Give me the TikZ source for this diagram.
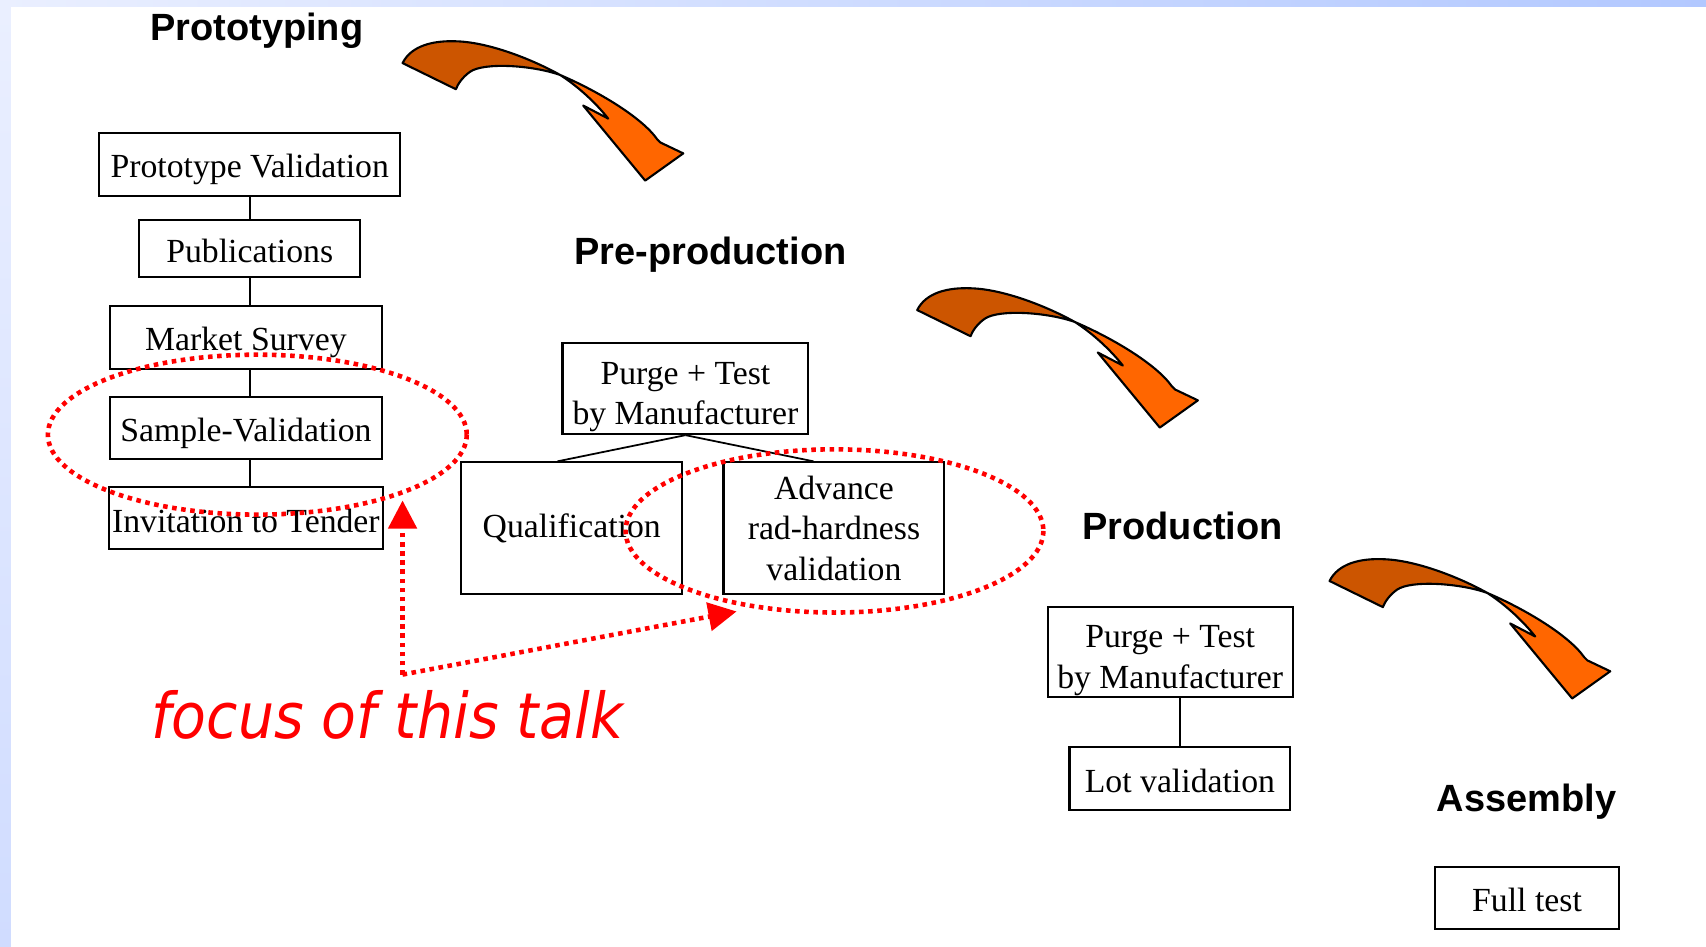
\documentclass[tikz,border=0pt]{standalone}
\usepackage{fontspec}
\setmainfont{Liberation Serif}
\newfontfamily\headfont{Liberation Sans}
\newfontfamily\talkfont{DejaVu Sans}
\usepackage{xcolor}
\usepackage{tikz}
\usetikzlibrary{arrows.meta}

\definecolor{tailorange}{RGB}{204,85,0}
\definecolor{headorange}{RGB}{255,102,0}
\definecolor{bandlight}{RGB}{234,239,255}
\definecolor{bandblue}{RGB}{178,200,255}
\definecolor{bandleft}{RGB}{208,220,255}

\tikzset{
  stagebox/.style 2 args={draw, line width=0.6pt, inner sep=1pt, align=center,
    font=\fontsize{9.6}{11.5}\selectfont,
    minimum width={#1*0.1088mm}, minimum height={#2*0.1088mm}},
  oneline/.style={text height=0.78em, text depth=0pt},
  twoline/.style={text height=2.05em, text depth=0pt},
  phase/.style={anchor=base, font=\headfont\bfseries\fontsize{10.8}{13}\selectfont},
  link/.style={line width=0.5pt},
  focusline/.style={red, line width=1.3pt, dash pattern=on 1.3pt off 1.3pt},
  focusarrow/.style={focusline, -{Triangle[length=8pt,width=8pt]}},
  bentarrow/.style={line width=0.6pt, line join=round}
}

\begin{document}
\begin{tikzpicture}[x=0.1088mm, y=-0.1088mm]
    \useasboundingbox (0,0) rectangle (1568,870);

    % Slide edges
    \shade[left color=bandlight, right color=bandblue] (0,0) rectangle (1568,6);
    \shade[top color=bandlight, bottom color=bandleft] (0,6) rectangle (10,870);

    % Phase titles
    \node[phase] (proto) at (236,37) {Prototyping};
    \node[phase] (preprod) at (653,243) {Pre-production};
    \node[phase] (prod) at (1087,496) {Production};
    \node[phase] (assembly) at (1403,746) {Assembly};

    % Bent arrows between phases
    \foreach \dx/\dy in {0/0, 473/227, 852/476}
    {
        \begin{scope}[shift={(\dx,\dy)}]
            \filldraw[bentarrow, fill=tailorange]
                (370,58) .. controls (378,42) and (398,37) .. (420,38)
                .. controls (450,39) and (490,55) .. (515,69)
                .. controls (490,60) and (445,57) .. (432,66)
                .. controls (425,71) and (421,77) .. (419,82) -- cycle;
            \filldraw[bentarrow, fill=headorange]
                (515,69) .. controls (550,84) and (590,108) .. (604,128)
                -- (607,131) -- (628,141) -- (593,166) -- (536,97) -- (559,109)
                .. controls (548,95) and (532,80) .. (515,69) -- cycle;
        \end{scope}
    }

    % Prototyping
    \node[stagebox={277}{58}, oneline] (pv) at (229.5,151) {Prototype Validation};
    \node[stagebox={203}{53}, oneline] (pub) at (229.5,228.5) {Publications};
    \node[stagebox={250}{58}, oneline] (ms) at (226,310) {Market Survey};
    \node[stagebox={250}{57}, oneline] (sv) at (226,393.5) {Sample-Validation};
    \node[stagebox={250}{57}, oneline] (itt) at (226,476.5) {Invitation to Tender};
    \draw[link] (pv.south) -- (pub.north);
    \draw[link] (pub.south) -- (pub.south |- ms.north);
    \draw[link] (ms.south -| pub.south) -- (sv.north -| pub.south);
    \draw[link] (sv.south -| pub.south) -- (itt.north -| pub.south);

    % Pre-production
    \node[stagebox={226}{84}, twoline] (ptpre) at (630,357) {Purge + Test\\by Manufacturer};
    \node[stagebox={203}{121}] (qual) at (525.5,485.5) {Qualification};
    \node[stagebox={203}{121}] (adv) at (766.5,485.5) {Advance\\rad-hardness\\validation};
    \draw[link] (ptpre.south) -- (qual.102);
    \draw[link] (ptpre.south) -- (adv.107);

    % Production
    \node[stagebox={225}{83}, twoline] (ptprod) at (1075.5,599.5) {Purge + Test\\by Manufacturer};
    \node[stagebox={203}{58}, oneline] (lot) at (1084.5,715.5) {Lot validation};
    \draw[link] (ptprod.south -| lot.north) -- (lot.north);

    % Assembly
    \node[stagebox={169}{57}, oneline] (full) at (1403.5,825.5) {Full test};

    % Focus of this talk
    \draw[focusline] (236.5,399.5) ellipse (192.5 and 73.5);
    \draw[focusline] (767,488) ellipse (192 and 75);
    \coordinate (bend) at (370,620);
    \coordinate (tipsample) at (370,460);
    \coordinate (tipadvance) at (677,562);
    \draw[focusarrow] (bend) -- (tipsample);
    \draw[focusarrow] (bend) -- (tipadvance);
    \node[anchor=base west, inner sep=0pt, red, font=\talkfont\itshape\fontsize{18}{22}\selectfont]
        (focus) at (139,679) {\scalebox{0.9}[1]{focus of this talk}};
\end{tikzpicture}
\end{document}
